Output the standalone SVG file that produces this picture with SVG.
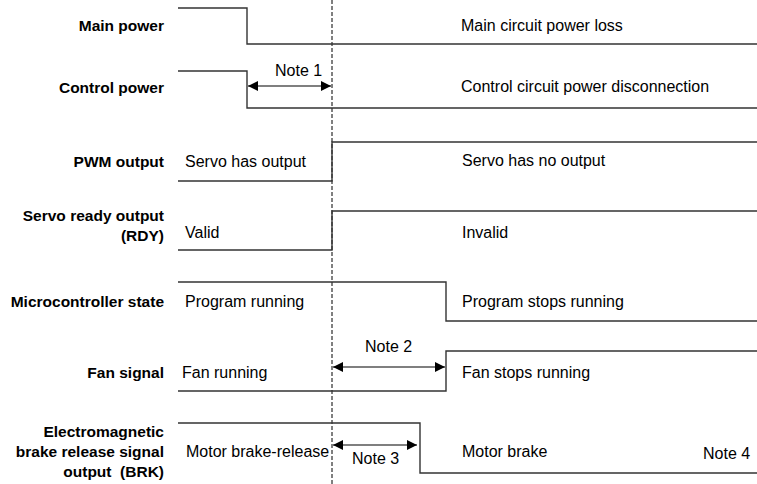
<svg xmlns="http://www.w3.org/2000/svg" width="757" height="484" viewBox="0 0 757 484">
<defs>
<style>
.lbl{font-family:"Liberation Sans",Arial,sans-serif;font-size:15.5px;font-weight:bold;fill:#000;text-anchor:end;white-space:pre}
.txt{font-family:"Liberation Sans",Arial,sans-serif;font-size:16px;fill:#000}
.sig{fill:none;stroke:#333;stroke-width:1.4}
.dash{stroke:#000;stroke-width:1;stroke-dasharray:4,2;fill:none}
.arr{stroke:#000;stroke-width:1.2;fill:none;marker-start:url(#ah);marker-end:url(#ah)}
</style>
<marker id="ah" viewBox="0 0 10 10" refX="10" refY="5" markerWidth="14" markerHeight="10" markerUnits="userSpaceOnUse" orient="auto-start-reverse">
<path d="M0,0 L10,5 L0,10 Z" fill="#000"/>
</marker>
</defs>
<rect width="757" height="484" fill="#fff"/>
<g id="labels">
<text class="lbl" x="164" y="31">Main power</text>
<text class="lbl" x="164" y="93">Control power</text>
<text class="lbl" x="164" y="167">PWM output</text>
<text class="lbl" x="164" y="221">Servo ready output</text>
<text class="lbl" x="164" y="241">(RDY)</text>
<text class="lbl" x="164" y="307">Microcontroller state</text>
<text class="lbl" x="164" y="378">Fan signal</text>
<text class="lbl" x="164" y="437">Electromagnetic</text>
<text class="lbl" x="164" y="457">brake release signal</text>
<text class="lbl" x="164" y="477" xml:space="preserve">output  (BRK)</text>
</g>
<g id="connectors">
<line class="dash" x1="332" y1="0" x2="332" y2="484"/>
<line class="arr" x1="248" y1="86" x2="331" y2="86"/>
<line class="arr" x1="333" y1="367" x2="445" y2="367"/>
<line class="arr" x1="333" y1="445" x2="417" y2="445"/>
</g>
<g id="main-power">
<polyline class="sig" points="178,8 247,8 247,44 757,44"/>
<text class="txt" x="461" y="31">Main circuit power loss</text>
</g>
<g id="control-power">
<polyline class="sig" points="178,71 247,71 247,108 757,108"/>
<text class="txt" x="275" y="76">Note 1</text>
<text class="txt" x="461" y="92">Control circuit power disconnection</text>
</g>
<g id="pwm-output">
<polyline class="sig" points="178,181 332,181 332,142 757,142"/>
<text class="txt" x="185" y="167">Servo has output</text>
<text class="txt" x="462" y="166">Servo has no output</text>
</g>
<g id="rdy">
<polyline class="sig" points="178,250 332,250 332,211 757,211"/>
<text class="txt" x="185" y="238">Valid</text>
<text class="txt" x="462" y="238">Invalid</text>
</g>
<g id="mcu-state">
<polyline class="sig" points="178,282 446,282 446,321 757,321"/>
<text class="txt" x="185" y="307">Program running</text>
<text class="txt" x="462" y="307">Program stops running</text>
</g>
<g id="fan-signal">
<polyline class="sig" points="178,391 446,391 446,351 757,351"/>
<text class="txt" x="365" y="352">Note 2</text>
<text class="txt" x="182" y="378">Fan running</text>
<text class="txt" x="462" y="378">Fan stops running</text>
</g>
<g id="brk">
<polyline class="sig" points="178,423 420,423 420,473 757,473"/>
<text class="txt" x="186" y="457">Motor brake-release</text>
<text class="txt" x="352" y="464">Note 3</text>
<text class="txt" x="462" y="457">Motor brake</text>
<text class="txt" x="703" y="459">Note 4</text>
</g>
</svg>
